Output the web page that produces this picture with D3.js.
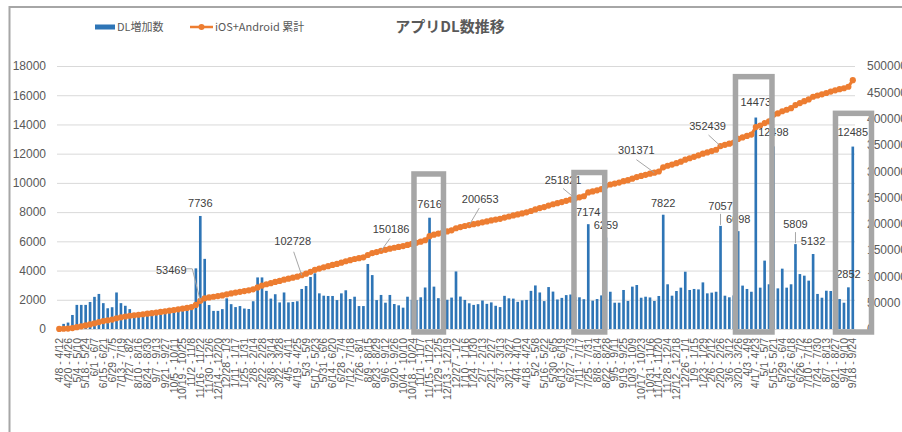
<!DOCTYPE html>
<html lang="ja">
<head>
<meta charset="utf-8">
<title>アプリDL数推移</title>
<script src="https://cdn.jsdelivr.net/npm/d3@7"></script>
<style>
  html, body { margin: 0; padding: 0; background: #fff; }
  #chart { width: 902px; height: 432px; }
  text { font-family: "Liberation Sans", Arial, sans-serif; }
</style>
</head>
<body>
<div id="chart"></div>
<script>
// weekly periods (only every other one is printed on the axis)
const categories = [
  '4/8 - 4/12', '4/13 - 4/19', '4/20 - 4/26', '4/27 - 5/3', '5/4 - 5/10', '5/11 - 5/17', '5/18 - 5/24', '5/25 - 5/31',
  '6/1 - 6/7', '6/8 - 6/14', '6/15 - 6/21', '6/22 - 6/28', '6/29 - 7/5', '7/6 - 7/12', '7/13 - 7/19', '7/20 - 7/26',
  '7/27 - 8/2', '8/3 - 8/9', '8/10 - 8/16', '8/17 - 8/23', '8/24 - 8/30', '8/31 - 9/6', '9/7 - 9/13', '9/14 - 9/20',
  '9/21 - 9/27', '9/28 - 10/4', '10/5 - 10/11', '10/12 - 10/18', '10/19 - 10/25', '10/26 - 11/1', '11/2 - 11/8', '11/9 - 11/15',
  '11/16 - 11/22', '11/23 - 11/29', '11/30 - 12/6', '12/7 - 12/13', '12/14 - 12/20', '12/21 - 12/27', '12/28 - 1/3', '1/4 - 1/10',
  '1/11 - 1/17', '1/18 - 1/24', '1/25 - 1/31', '2/1 - 2/7', '2/8 - 2/14', '2/15 - 2/21', '2/22 - 2/28', '3/1 - 3/7',
  '3/8 - 3/14', '3/15 - 3/21', '3/22 - 3/28', '3/29 - 4/4', '4/5 - 4/11', '4/12 - 4/18', '4/19 - 4/25', '4/26 - 5/2',
  '5/3 - 5/9', '5/10 - 5/16', '5/17 - 5/23', '5/24 - 5/30', '5/31 - 6/6', '6/7 - 6/13', '6/14 - 6/20', '6/21 - 6/27',
  '6/28 - 7/4', '7/5 - 7/11', '7/12 - 7/18', '7/19 - 7/25', '7/26 - 8/1', '8/2 - 8/8', '8/9 - 8/15', '8/16 - 8/22',
  '8/23 - 8/29', '8/30 - 9/5', '9/6 - 9/12', '9/13 - 9/19', '9/20 - 9/26', '9/27 - 10/3', '10/4 - 10/10', '10/11 - 10/17',
  '10/18 - 10/24', '10/25 - 10/31', '11/1 - 11/7', '11/8 - 11/14', '11/15 - 11/21', '11/22 - 11/28', '11/29 - 12/5', '12/6 - 12/12',
  '12/13 - 12/19', '12/20 - 12/26', '12/27 - 1/2', '1/3 - 1/9', '1/10 - 1/16', '1/17 - 1/23', '1/24 - 1/30', '1/31 - 2/6',
  '2/7 - 2/13', '2/14 - 2/20', '2/21 - 2/27', '2/28 - 3/6', '3/7 - 3/13', '3/14 - 3/20', '3/21 - 3/27', '3/28 - 4/3',
  '4/4 - 4/10', '4/11 - 4/17', '4/18 - 4/24', '4/25 - 5/1', '5/2 - 5/8', '5/9 - 5/15', '5/16 - 5/22', '5/23 - 5/29',
  '5/30 - 6/5', '6/6 - 6/12', '6/13 - 6/19', '6/20 - 6/26', '6/27 - 7/3', '7/4 - 7/10', '7/11 - 7/17', '7/18 - 7/24',
  '7/25 - 7/31', '8/1 - 8/7', '8/8 - 8/14', '8/15 - 8/21', '8/22 - 8/28', '8/29 - 9/4', '9/5 - 9/11', '9/12 - 9/18',
  '9/19 - 9/25', '9/26 - 10/2', '10/3 - 10/9', '10/10 - 10/16', '10/17 - 10/23', '10/24 - 10/30', '10/31 - 11/6', '11/7 - 11/13',
  '11/14 - 11/20', '11/21 - 11/27', '11/28 - 12/4', '12/5 - 12/11', '12/12 - 12/18', '12/19 - 12/25', '12/26 - 1/1', '1/2 - 1/8',
  '1/9 - 1/15', '1/16 - 1/22', '1/23 - 1/29', '1/30 - 2/5', '2/6 - 2/12', '2/13 - 2/19', '2/20 - 2/26', '2/27 - 3/5',
  '3/6 - 3/12', '3/13 - 3/19', '3/20 - 3/26', '3/27 - 4/2', '4/3 - 4/9', '4/10 - 4/16', '4/17 - 4/23', '4/24 - 4/30',
  '5/1 - 5/7', '5/8 - 5/14', '5/15 - 5/21', '5/22 - 5/28', '5/29 - 6/4', '6/5 - 6/11', '6/12 - 6/18', '6/19 - 6/25',
  '6/26 - 7/2', '7/3 - 7/9', '7/10 - 7/16', '7/17 - 7/23', '7/24 - 7/30', '7/31 - 8/6', '8/7 - 8/13', '8/14 - 8/20',
  '8/21 - 8/27', '8/28 - 9/3', '9/4 - 9/10', '9/11 - 9/17', '9/18 - 9/24'
];

// DL増加数 per week
const dlValues = [
  100, 350, 440, 960, 1650, 1650, 1650, 1850, 2200, 2400, 1770, 1420, 1490, 2500, 1770, 1590,
  1360, 950, 1000, 900, 1050, 1100, 1150, 1200, 1100, 1250, 1300, 1250, 1350, 1400, 1560, 4150,
  7736, 4800, 1640, 1240, 1240, 1360, 2100, 1700, 1500, 1570, 1400, 1370, 1900, 3530, 3530, 2610,
  2080, 2380, 1820, 2500, 1820, 1850, 1900, 2740, 2940, 3560, 3810, 2440, 2280, 2260, 2260, 1980,
  2440, 2650, 2050, 2210, 1570, 1570, 4450, 3690, 1980, 2330, 1800, 2330, 1710, 1620, 1460, 2210,
  2000, 1980, 2170, 2840, 7616, 2900, 2110, 2100, 2000, 2150, 3940, 2220, 1990, 1760, 1650, 1700,
  1950, 1720, 1820, 1590, 1500, 2270, 2100, 2080, 1860, 1960, 1990, 2610, 2980, 2500, 1910, 2870,
  2560, 2020, 2130, 2320, 2360, 2200, 2170, 2040, 7174, 1940, 2050, 2300, 6259, 2550, 1800, 1800,
  2670, 1920, 2900, 3010, 2140, 2210, 2160, 1920, 2260, 7822, 3060, 2280, 2600, 2830, 3920, 2670,
  2740, 2710, 3190, 2440, 2490, 2550, 7057, 2280, 2170, 2300, 6698, 2970, 2740, 2550, 14473, 2830,
  4680, 3060, 12498, 2780, 4130, 2830, 3060, 5809, 3760, 3650, 3310, 5132, 2400, 2140, 2620, 2600,
  2500, 2050, 1800, 2852, 12485
];

const leftTicks = [0, 2000, 4000, 6000, 8000, 10000, 12000, 14000, 16000, 18000];
const rightTicks = [0, 50000, 100000, 150000, 200000, 250000, 300000, 350000, 400000, 450000, 500000];

// data labels on single bars (lift = px above bar top)
const barLabels = [
  { index: 32, text: '7736', lift: 13 },
  { index: 84, text: '7616', lift: 14 },
  { index: 120, text: '7174', lift: 12.5 },
  { index: 124, text: '6259', lift: 12 },
  { index: 137, text: '7822', lift: 11.5 },
  { index: 150, text: '7057', lift: 20, leader: true },
  { index: 154, text: '6698', lift: 12 },
  { index: 158, text: '14473', lift: 15.5 },
  { index: 162, text: '12498', lift: 14.5 },
  { index: 167, text: '5809', lift: 20, leader: true },
  { index: 171, text: '5132', lift: 13 },
  { index: 179, text: '2852', lift: 13 },
  { index: 180, text: '12485', lift: 14 }
];

// labels on the cumulative line, offsets from the point
const cumLabels = [
  { index: 32, text: '53469', dx: -29, dy: -31, leader: [[-14, -32], [-8, -32]] },
  { index: 55, text: '102728', dx: -9, dy: -34, leader: [[-8, -23.5]] },
  { index: 73, text: '150186', dx: 10, dy: -22, leader: [[9, -12.5]] },
  { index: 93, text: '200653', dx: 11, dy: -26, leader: [[10, -17]] },
  { index: 117, text: '251821', dx: -12, dy: -18, leader: [[-12, -10]] },
  { index: 135, text: '301371', dx: -18, dy: -23, leader: [[-18, -13]] },
  { index: 150, text: '352439', dx: -13, dy: -20, leader: [[-12, -11]] }
];

// grey highlight frames: category span and top (left-axis units)
const highlightBoxes = [
  { from: 80.47, to: 87.16, top: 10610 },
  { from: 116.76, to: 123.73, top: 10710 },
  { from: 153.39, to: 161.67, top: 17270 },
  { from: 176.07, to: 184.24, top: 14760 }
];

(function () {
    const COLORS = {
        bar: '#2e75b6',
        line: '#ed7d31',
        grid: '#d9d9d9',
        axisText: '#595959',
        label: '#404040',
        leader: '#a6a6a6',
        frame: '#a6a6a6'
    };

    const WIDTH = 902;
    const HEIGHT = 432;
    const plot = { left: 57, right: 855, top: 66, bottom: 329 };
    const CJK = '"Noto Sans CJK JP", "Noto Sans", sans-serif';

    const svg = d3.select('#chart').append('svg')
        .attr('width', WIDTH)
        .attr('height', HEIGHT);

    svg.append('rect')
        .attr('width', WIDTH)
        .attr('height', HEIGHT)
        .attr('fill', '#fff');

    // outer frame (top and left edge only are visible)
    svg.append('path')
        .attr('d', `M9.5,${HEIGHT} V7 H${WIDTH}`)
        .attr('fill', 'none')
        .attr('stroke', COLORS.frame)
        .attr('stroke-width', 2);

    const idx = categories.map((d, i) => i);
    const x = d3.scaleBand()
        .domain(idx)
        .range([plot.left, plot.right])
        .paddingInner(0.4)
        .paddingOuter(0.2);
    const xc = i => x(i) + x.bandwidth() / 2;
    const xf = f => xc(0) + f * x.step(); // fractional category position

    const y = d3.scaleLinear().domain([0, 18000]).range([plot.bottom, plot.top]);
    const y2 = d3.scaleLinear().domain([0, 500000]).range([plot.bottom, plot.top]);

    const cumulative = Array.from(d3.cumsum(dlValues));

    // gridlines + left labels
    const leftAxis = svg.append('g')
        .attr('transform', `translate(${plot.left},0)`)
        .call(d3.axisLeft(y)
            .tickValues(leftTicks)
            .tickFormat(d3.format('d'))
            .tickSize(-(plot.right - plot.left))
            .tickPadding(11));
    leftAxis.select('.domain').remove();
    leftAxis.selectAll('line').attr('stroke', COLORS.grid);
    leftAxis.selectAll('text')
        .attr('fill', COLORS.axisText)
        .style('font-size', '12px');

    const rightAxis = svg.append('g')
        .attr('transform', `translate(${plot.right},0)`)
        .call(d3.axisRight(y2)
            .tickValues(rightTicks)
            .tickFormat(d3.format('d'))
            .tickSize(0)
            .tickPadding(12));
    rightAxis.select('.domain').remove();
    rightAxis.selectAll('text')
        .attr('fill', COLORS.axisText)
        .style('font-size', '12px');

    // category axis, every other week printed, vertical text
    const xAxis = svg.append('g')
        .attr('transform', `translate(0,${plot.bottom})`)
        .call(d3.axisBottom(x)
            .tickValues(idx.filter(i => i % 2 === 0))
            .tickFormat(i => categories[i])
            .tickSize(0));
    xAxis.select('.domain').attr('stroke', COLORS.grid);
    xAxis.selectAll('text')
        .attr('transform', 'rotate(-90)')
        .attr('x', -9)
        .attr('y', 0)
        .attr('dy', '0.35em')
        .style('text-anchor', 'end')
        .style('font-size', '10.5px')
        .attr('fill', COLORS.axisText);

    // bars
    svg.append('g')
        .selectAll('rect')
        .data(dlValues)
        .enter()
        .append('rect')
        .attr('x', (d, i) => x(i))
        .attr('y', d => y(d))
        .attr('width', x.bandwidth())
        .attr('height', d => plot.bottom - y(d))
        .attr('fill', COLORS.bar);

    // cumulative line with markers
    const line = d3.line()
        .x((d, i) => xc(i))
        .y(d => y2(d));

    svg.append('path')
        .datum(cumulative)
        .attr('d', line)
        .attr('fill', 'none')
        .attr('stroke', COLORS.line)
        .attr('stroke-width', 3);

    svg.append('g')
        .selectAll('circle')
        .data(cumulative)
        .enter()
        .append('circle')
        .attr('cx', (d, i) => xc(i))
        .attr('cy', d => y2(d))
        .attr('r', 3.1)
        .attr('fill', COLORS.line);

    // bar data labels
    barLabels.forEach(b => {
        const top = y(dlValues[b.index]);
        svg.append('text')
            .attr('x', xc(b.index))
            .attr('y', top - b.lift)
            .attr('dy', '0.35em')
            .attr('text-anchor', 'middle')
            .attr('fill', COLORS.label)
            .style('font-size', '11px')
            .text(b.text);
        if (b.leader) {
            svg.append('line')
                .attr('x1', xc(b.index)).attr('x2', xc(b.index))
                .attr('y1', top - b.lift + 8).attr('y2', top - 1)
                .attr('stroke', COLORS.leader);
        }
    });

    // cumulative labels with leader lines
    cumLabels.forEach(c => {
        const px = xc(c.index);
        const py = y2(cumulative[c.index]);
        const pts = c.leader.map(p => [px + p[0], py + p[1]]).concat([[px, py]]);
        svg.append('path')
            .attr('d', d3.line()(pts))
            .attr('fill', 'none')
            .attr('stroke', COLORS.leader);
        svg.append('text')
            .attr('x', px + c.dx)
            .attr('y', py + c.dy)
            .attr('dy', '0.35em')
            .attr('text-anchor', 'middle')
            .attr('fill', COLORS.label)
            .style('font-size', '11px')
            .text(c.text);
    });

    // highlight frames drawn on top
    svg.append('g')
        .selectAll('rect')
        .data(highlightBoxes)
        .enter()
        .append('rect')
        .attr('x', d => xf(d.from))
        .attr('y', d => y(d.top))
        .attr('width', d => xf(d.to) - xf(d.from))
        .attr('height', d => plot.bottom + 3 - y(d.top))
        .attr('fill', 'none')
        .attr('stroke', COLORS.frame)
        .attr('stroke-width', 5.5);

    // title
    svg.append('text')
        .attr('x', 450)
        .attr('y', 27)
        .attr('dy', '0.35em')
        .attr('text-anchor', 'middle')
        .attr('fill', COLORS.axisText)
        .style('font-family', CJK)
        .style('font-size', '15px')
        .style('font-weight', 'bold')
        .text('アプリDL数推移');

    // legend
    const legend = svg.append('g').attr('transform', 'translate(95,27)');
    legend.append('rect')
        .attr('x', 0).attr('y', -2.5)
        .attr('width', 20).attr('height', 5)
        .attr('fill', COLORS.bar);
    legend.append('text')
        .attr('x', 22).attr('dy', '0.35em')
        .attr('fill', COLORS.axisText)
        .style('font-family', CJK)
        .style('font-size', '11px')
        .text('DL増加数');
    legend.append('line')
        .attr('x1', 95).attr('x2', 118)
        .attr('stroke', COLORS.line)
        .attr('stroke-width', 2.5);
    legend.append('circle')
        .attr('cx', 106.5).attr('r', 3)
        .attr('fill', COLORS.line);
    legend.append('text')
        .attr('x', 120).attr('dy', '0.35em')
        .attr('fill', COLORS.axisText)
        .style('font-family', CJK)
        .style('font-size', '11px')
        .text('iOS+Android 累計');
})();
</script>
</body>
</html>
